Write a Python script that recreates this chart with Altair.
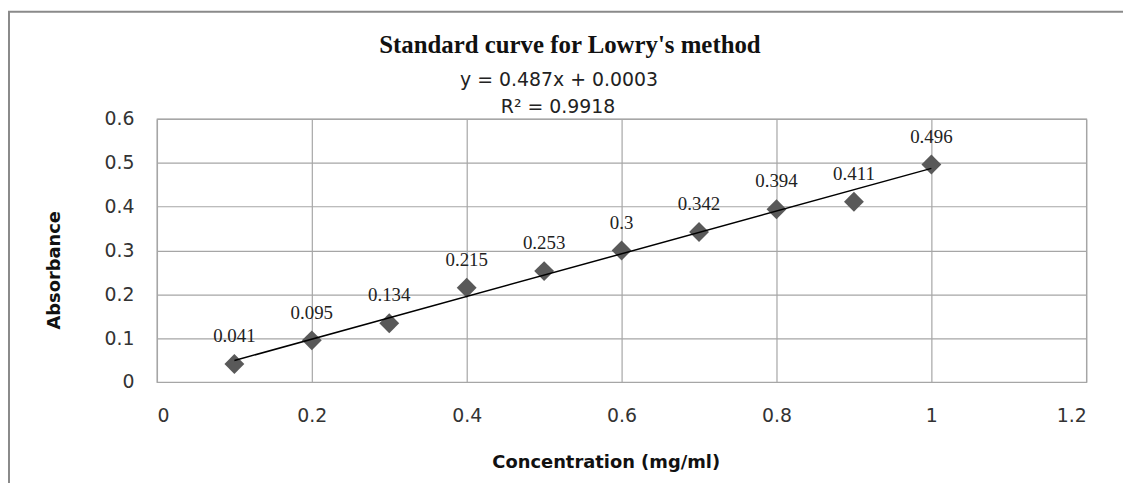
import altair as alt
import pandas as pd

concentration = [0.1, 0.2, 0.3, 0.4, 0.5, 0.6, 0.7, 0.8, 0.9, 1.0]
absorbance = [0.041, 0.095, 0.134, 0.215, 0.253, 0.3, 0.342, 0.394, 0.411, 0.496]
point_labels = ["0.041", "0.095", "0.134", "0.215", "0.253", "0.3", "0.342", "0.394", "0.411", "0.496"]
title_text = "Standard curve for Lowry's method"
equation_text = "y = 0.487x + 0.0003"
r2_text = "R² = 0.9918"

df = pd.DataFrame({"conc": concentration, "abs": absorbance, "lab": point_labels})
one = pd.DataFrame({"k": [0]})

SANS = "DejaVu Sans"
SERIF = "Liberation Serif"

x_enc = alt.X("conc:Q", scale=alt.Scale(domain=[0, 1.2], nice=False),
              axis=alt.Axis(values=[0, 0.2, 0.4, 0.6, 0.8, 1.0, 1.2], format=".1~f",
                            title="Concentration (mg/ml)", grid=True, ticks=False, tickSize=0,
                            labelPadding=34, labelBaseline="middle",
                            titleX=452, titleY=81, titleBaseline="middle", titleAnchor="middle"))
y_enc = alt.Y("abs:Q", scale=alt.Scale(domain=[0, 0.6], nice=False),
              axis=alt.Axis(values=[0, 0.1, 0.2, 0.3, 0.4, 0.5, 0.6], format=".1~f",
                            title="Absorbance", grid=True, ticks=False, tickSize=0,
                            labelPadding=23, titleAngle=270, titleX=-103, titleY=152,
                            titleBaseline="middle", titleAlign="center"))

frame = alt.Chart(one).mark_rect(fill="white", fillOpacity=0, stroke="#8a8a8a", strokeWidth=2).encode(
    x=alt.value(-149), x2=alt.value(1300), y=alt.value(-108), y2=alt.value(700))

base = alt.Chart(df)

points = base.mark_point(shape="diamond", filled=True, color="#595959", size=400, opacity=1).encode(
    x=x_enc, y=y_enc)

trend = base.transform_regression("conc", "abs", extent=[0.1, 1.0]).mark_line(
    color="black", strokeWidth=1.5).encode(x="conc:Q", y="abs:Q")

labels = base.mark_text(font=SERIF, fontSize=19, color="#222222", dy=-28, baseline="middle").encode(
    x="conc:Q", y="abs:Q", text="lab:N")

t1 = alt.Chart(one).mark_text(text=title_text, font=SERIF, fontSize=25, fontWeight="bold",
                              color="#111111", baseline="alphabetic", align="center").encode(
    x=alt.value(416), y=alt.value(-66))
t2 = alt.Chart(one).mark_text(text=equation_text, font=SANS, fontSize=19, color="#222222",
                              baseline="alphabetic", align="center").encode(
    x=alt.value(405), y=alt.value(-33))
t3 = alt.Chart(one).mark_text(text=r2_text, font=SANS, fontSize=19, color="#222222",
                              baseline="alphabetic", align="center").encode(
    x=alt.value(404), y=alt.value(-6))

chart = alt.layer(frame, points, trend, labels, t1, t2, t3).properties(
    width=936, height=265,
    autosize=alt.AutoSizeParams(type="none"),
    padding={"left": 150, "top": 110, "right": 37, "bottom": 100},
    background="white",
).configure_view(stroke="#a6a6a6", strokeWidth=1.2).configure_axis(
    gridColor="#a6a6a6", gridWidth=1.2, gridOpacity=1,
    domainColor="#a6a6a6", domainWidth=1.2,
    labelFont=SANS, labelFontSize=19, labelColor="#333333",
    titleFont=SANS, titleFontSize=18, titleFontWeight="bold", titleColor="#111111",
)

chart.save("out.html", embed_options={"renderer": "svg", "actions": False})
